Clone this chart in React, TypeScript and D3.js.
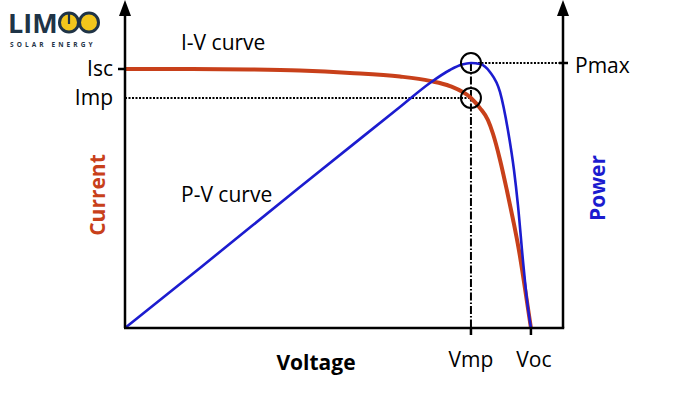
import React from "react";
import * as d3 from "d3";

// I-V curve (voltage in V, current in A) — schematic values
const ivVoltage = [0, 4.93, 12.32, 17.24, 22.17, 27.09, 30.05, 32.02, 34.09, 34.98, 35.76, 36.26, 36.95, 37.64, 38.23, 38.82, 39.31, 40];
const ivCurrent = [10, 10, 9.98, 9.94, 9.85, 9.71, 9.54, 9.34, 8.88, 8.49, 8.03, 7.5, 6.5, 5.3, 4.2, 3.0, 1.8, 0];
// P-V curve (voltage in V, power in W)
const pvVoltage = [0, 7.39, 17.24, 27.09, 30.05, 32.02, 33.2, 34.09, 34.98, 35.96, 36.95, 37.73, 38.33, 38.72, 39.21, 39.61, 40];
const pvPower = [0, 68.6, 161.1, 252.5, 280, 294.8, 301, 302.8, 301.6, 292.5, 269.7, 226.2, 180.5, 140.5, 77.7, 32, 0];

const Isc = 10;
const Imp = 8.88;
const Vmp = 34.09;
const Voc = 40;
const Pmax = 302.8;

const RED = "#c8401a";
const BLUE = "#1c1ccf";
const NAVY = "#1f3447";
const FONT = "'Open Sans', 'Liberation Sans', sans-serif";

export default function App() {
  const W = 700, H = 393;
  const x = d3.scaleLinear().domain([0, 43.16]).range([125, 563]);
  const yI = d3.scaleLinear().domain([0, Isc]).range([328, 69]);
  const yP = d3.scaleLinear().domain([0, Pmax]).range([328, 63]);

  const ivLine = d3.line<number>().x((_, i) => x(ivVoltage[i])).y((d) => yI(d)).curve(d3.curveMonotoneX);
  const pvLine = d3.line<number>().x((_, i) => x(pvVoltage[i])).y((d) => yP(d)).curve(d3.curveMonotoneX);

  const x0 = x(0), xR = x(43.16), y0 = yI(0);
  const xmp = x(Vmp), xoc = x(Voc);
  const yIsc = yI(Isc), yImp = yI(Imp), yPmax = yP(Pmax);

  return (
    <svg width={W} height={H} style={{ position: "absolute", left: 0, top: 0, background: "#fff" }}>
      {/* logo */}
      <g>
        <text x={8} y={33} fontFamily={FONT} fontWeight={700} fontSize={27} fill={NAVY}>LIM</text>
        <circle cx={69} cy={22.5} r={9.5} fill="#f2c61c" stroke={NAVY} strokeWidth={3} />
        <line x1={69} y1={12} x2={69} y2={24} stroke={NAVY} strokeWidth={2.2} />
        <circle cx={89} cy={22.5} r={9.5} fill="#f2c61c" stroke={NAVY} strokeWidth={3} />
        <text x={10} y={47} fontFamily={FONT} fontWeight={700} fontSize={6.5} letterSpacing={3.1} fill={NAVY}>SOLAR ENERGY</text>
      </g>

      {/* guide lines */}
      <line x1={x0} y1={yImp} x2={xmp} y2={yImp} stroke="#000" strokeWidth={2} strokeDasharray="2,1.5" />
      <line x1={xmp} y1={yPmax} x2={xR} y2={yPmax} stroke="#000" strokeWidth={2} strokeDasharray="2,1.5" />
      <line x1={xmp} y1={yPmax} x2={xmp} y2={y0} stroke="#000" strokeWidth={2} strokeDasharray="8,2,1.5,2" />

      {/* curves */}
      <path d={ivLine(ivCurrent) || ""} fill="none" stroke={RED} strokeWidth={4} />
      <path d={pvLine(pvPower) || ""} fill="none" stroke={BLUE} strokeWidth={2.6} />

      {/* axes */}
      <line x1={x0} y1={y0} x2={x0} y2={10} stroke="#000" strokeWidth={2.5} />
      <path d={`M${x0},0 L${x0 - 6},16 L${x0 + 6},16 Z`} fill="#000" />
      <line x1={xR} y1={y0} x2={xR} y2={10} stroke="#000" strokeWidth={2.5} />
      <path d={`M${xR},0 L${xR - 6},16 L${xR + 6},16 Z`} fill="#000" />
      <line x1={x0 - 1} y1={y0} x2={xR + 1.2} y2={y0} stroke="#000" strokeWidth={2.5} />

      {/* ticks */}
      <line x1={x0 - 7} y1={yIsc} x2={x0} y2={yIsc} stroke="#000" strokeWidth={2.5} />
      <line x1={xR - 4} y1={yPmax} x2={xR + 5} y2={yPmax} stroke="#000" strokeWidth={2.5} />
      <line x1={xmp} y1={y0} x2={xmp} y2={y0 + 7} stroke="#000" strokeWidth={2.5} />
      <line x1={xoc} y1={y0} x2={xoc} y2={y0 + 7} stroke="#000" strokeWidth={2.5} />

      {/* markers */}
      <circle cx={xmp} cy={yPmax} r={10} fill="none" stroke="#000" strokeWidth={2} />
      <circle cx={xmp} cy={yImp} r={10} fill="none" stroke="#000" strokeWidth={2} />

      {/* labels */}
      <g fontFamily={FONT} fontSize={21} fill="#000">
        <text x={113} y={76} textAnchor="end">Isc</text>
        <text x={113} y={105} textAnchor="end">Imp</text>
        <text x={575} y={73}>Pmax</text>
        <text x={xmp} y={367} textAnchor="middle">Vmp</text>
        <text x={xoc + 3} y={367} textAnchor="middle">Voc</text>
        <text x={181} y={50}>I-V curve</text>
        <text x={181} y={202}>P-V curve</text>
      </g>
      <text x={316} y={370} textAnchor="middle" fontFamily={FONT} fontWeight={700} fontSize={21} fill="#000">Voltage</text>
      <text transform="translate(105,195) rotate(-90)" textAnchor="middle" fontFamily={FONT} fontWeight={700} fontSize={21} fill={RED}>Current</text>
      <text transform="translate(605,188) rotate(-90)" textAnchor="middle" fontFamily={FONT} fontWeight={700} fontSize={21} fill={BLUE}>Power</text>
    </svg>
  );
}
